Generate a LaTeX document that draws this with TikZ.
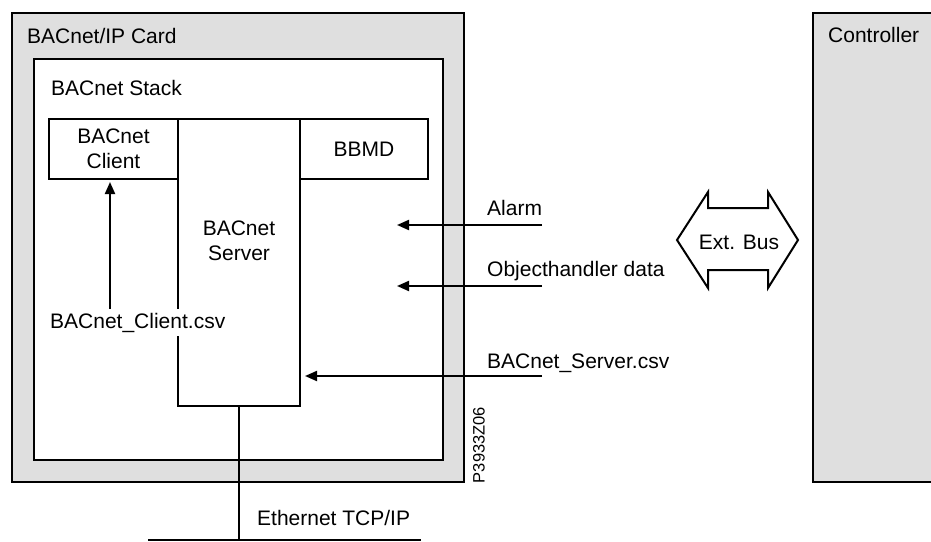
\documentclass[tikz,border=0pt]{standalone}
\usepackage{fontspec}
\setmainfont{Liberation Sans}
\usetikzlibrary{arrows.meta}
\definecolor{cardgrey}{HTML}{DFDFDF}
\begin{document}
\begin{tikzpicture}[x=1pt,y=-1pt,
  every node/.style={font=\fontsize{21}{25}\selectfont},
  frame/.style={draw=black, line width=2pt},
  unit/.style={frame, fill=white, inner sep=0pt},
  lbl/.style={inner sep=0pt, anchor=base west},
  flow/.style={line width=2pt, -{Triangle[length=12pt,width=10pt]}},
  wire/.style={line width=2.5pt}]
\useasboundingbox (0,0) rectangle (931,541);

% card and stack frames
\node[frame, fill=cardgrey, inner sep=0pt, minimum width=452pt, minimum height=469pt]
  (card) at (238,247.5) {};
\node[lbl] (cardlabel) at (27,43) {BACnet/IP Card};
\node[unit, minimum width=409pt, minimum height=401pt] (stack) at (238.5,259.5) {};
\node[lbl] (stacklabel) at (51,95) {BACnet Stack};

% stack components
\node[unit, minimum width=122pt, minimum height=287pt] (server) at (239,262.5) {};
\node[unit, minimum width=129pt, minimum height=60pt, align=center] (client) at (113.5,149) {BACnet\\Client};
\node[unit, minimum width=128pt, minimum height=60pt] (bbmd) at (364,149) {BBMD};
\node[inner sep=0pt, align=center] (servertext) at (239,240.5) {BACnet\\Server};

% client configuration file
\node[lbl, fill=white, inner sep=4pt] (clientcsv) at (46,328) {BACnet\_Client.csv};
\coordinate (clientfeed) at (110,308.5);
\draw[flow, shorten >=2pt] (clientfeed) -- (clientfeed |- client.south);

% inputs from the controller side
\coordinate (alarmsrc) at (542,225);
\coordinate (alarmdst) at (397,225);
\coordinate (objsrc) at (542,286);
\coordinate (objdst) at (397,286);
\coordinate (srvsrc) at (542,376);
\draw[flow] (alarmsrc) -- (alarmdst);
\draw[flow] (objsrc) -- (objdst);
\draw[flow, shorten >=4pt] (srvsrc) -- (server.east |- srvsrc);
\node[lbl] (alarmlabel) at (487,215) {Alarm};
\node[lbl] (objlabel) at (487,276) {Objecthandler data};
\node[lbl] (srvlabel) at (487,368) {BACnet\_Server.csv};

% ethernet connection
\coordinate (lanL) at (148,540);
\coordinate (lanR) at (421,540);
\draw[wire] (lanL) -- (lanR);
\draw[wire] (server.south) -- (server.south |- lanL);
\node[lbl] (lanlabel) at (257,525.5) {Ethernet TCP/IP};

% drawing number
\node[rotate=90, inner sep=0pt, font=\fontsize{16.5}{20}\selectfont] (figid) at (479,445) {P3933Z06};

% external bus
\draw[frame, fill=white] (677,240) -- (708,192) -- (708,208) -- (768,208) -- (768,192)
  -- (798,240) -- (768,288) -- (768,270) -- (708,270) -- (708,288) -- cycle;
\node[inner sep=0pt] (extbus) at (739,242.5) {Ext. Bus};

% controller
\draw[frame, fill=cardgrey] (813,13) rectangle (945,482);
\node[lbl] (ctrllabel) at (828,42) {Controller};
\end{tikzpicture}
\end{document}
